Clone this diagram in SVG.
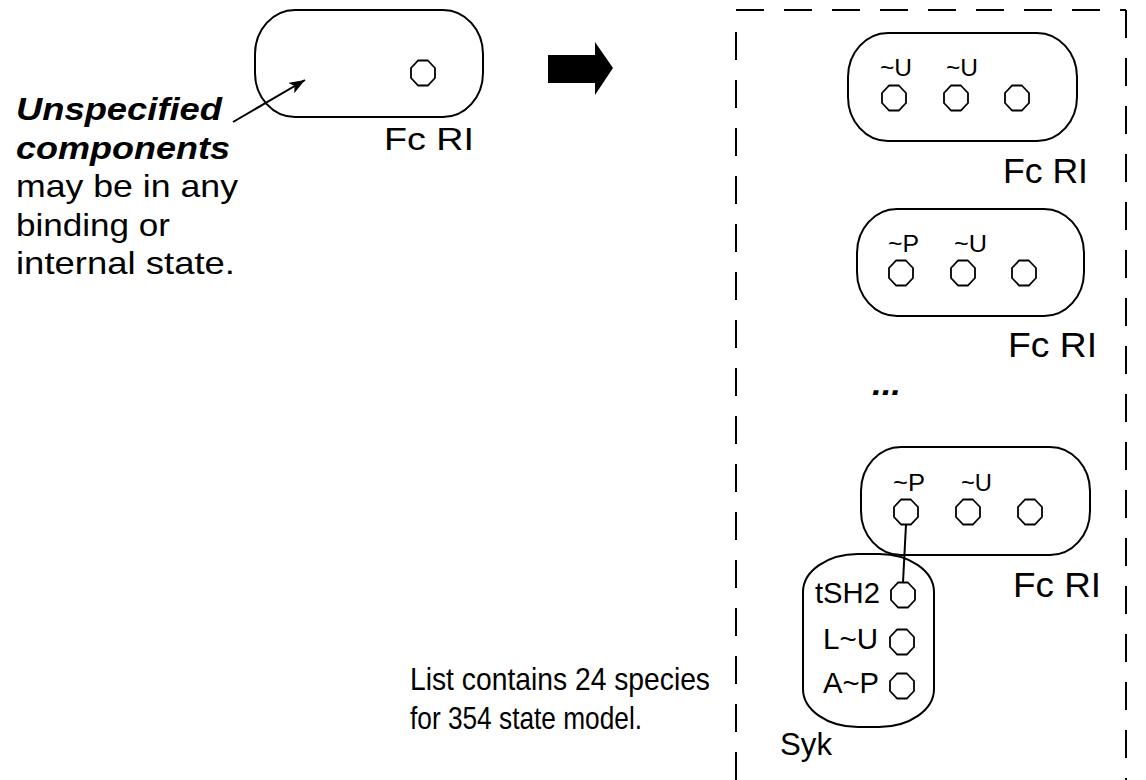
<svg xmlns="http://www.w3.org/2000/svg" width="1146" height="780" viewBox="0 0 1146 780">
<style>
.sh{fill:none;stroke:#000;stroke-width:2}
.oc{fill:#fff;stroke:#000;stroke-width:1.8}
.t{font-family:"Liberation Sans",Arial,sans-serif;fill:#000}
.dash{fill:none;stroke:#000;stroke-width:2;stroke-dasharray:28 20}
</style>
<defs>
<polygon id="oct" points="4.8,-12.5 12,-5 12,5 4.8,12.5 -4.8,12.5 -12,5 -12,-5 -4.8,-12.5"/>
<marker id="ah" viewBox="0 0 16 12" refX="16" refY="6" markerWidth="16" markerHeight="12" markerUnits="userSpaceOnUse" orient="auto">
<path d="M0,0 L16,6 L0,12 L4,6 Z" fill="#000"/>
</marker>
</defs>
<rect width="1146" height="780" fill="#fff"/>

<g id="frame">
<line class="dash" x1="736" y1="10" x2="1126" y2="10"/>
<line class="dash" x1="736" y1="32" x2="736" y2="790"/>
<line class="dash" x1="1126" y1="10" x2="1126" y2="790"/>
</g>

<g id="node-template">
<rect class="sh" x="255" y="10" width="228" height="107" rx="40" ry="44"/>
<use href="#oct" class="oc" x="423" y="73"/>
<text class="t" x="384" y="150" font-size="32" textLength="90" lengthAdjust="spacingAndGlyphs">Fc RI</text>
</g>

<g id="note">
<text class="t" x="16" y="120" font-size="32" font-weight="bold" font-style="italic" textLength="206" lengthAdjust="spacingAndGlyphs">Unspecified</text>
<text class="t" x="16" y="158.5" font-size="32" font-weight="bold" font-style="italic" textLength="214" lengthAdjust="spacingAndGlyphs">components</text>
<text class="t" x="16" y="197" font-size="32" textLength="222" lengthAdjust="spacingAndGlyphs">may be in any</text>
<text class="t" x="16" y="235.5" font-size="32" textLength="154" lengthAdjust="spacingAndGlyphs">binding or</text>
<text class="t" x="16" y="274" font-size="32" textLength="219" lengthAdjust="spacingAndGlyphs">internal state.</text>
</g>

<g id="block-arrow">
<polygon points="548,55 595,55 595,42 613,68 595,95 595,83 548,83" fill="#000"/>
</g>

<g id="node-1">
<rect class="sh" x="848" y="33" width="229" height="108" rx="40" ry="44"/>
<text class="t" x="880" y="76" font-size="24" textLength="32" lengthAdjust="spacingAndGlyphs">~U</text>
<text class="t" x="946" y="76" font-size="24" textLength="32" lengthAdjust="spacingAndGlyphs">~U</text>
<use href="#oct" class="oc" x="894" y="98"/>
<use href="#oct" class="oc" x="956" y="98"/>
<use href="#oct" class="oc" x="1017" y="98"/>
<text class="t" x="1003" y="183" font-size="35" textLength="85" lengthAdjust="spacingAndGlyphs">Fc RI</text>
</g>

<g id="node-2">
<rect class="sh" x="857" y="209" width="227" height="107" rx="40" ry="44"/>
<text class="t" x="888" y="252" font-size="24" textLength="31" lengthAdjust="spacingAndGlyphs">~P</text>
<text class="t" x="954" y="252" font-size="24" textLength="33" lengthAdjust="spacingAndGlyphs">~U</text>
<use href="#oct" class="oc" x="901" y="273"/>
<use href="#oct" class="oc" x="963" y="273"/>
<use href="#oct" class="oc" x="1024" y="273"/>
<text class="t" x="1008" y="357" font-size="35" textLength="89" lengthAdjust="spacingAndGlyphs">Fc RI</text>
</g>

<g id="ellipsis">
<text class="t" x="872" y="395" font-size="32" font-weight="bold" font-style="italic" textLength="29" lengthAdjust="spacingAndGlyphs">...</text>
</g>

<g id="node-3">
<rect class="sh" x="861" y="447" width="229" height="108" rx="40" ry="44"/>
<text class="t" x="893" y="491" font-size="24" textLength="32" lengthAdjust="spacingAndGlyphs">~P</text>
<text class="t" x="961" y="491" font-size="24" textLength="31" lengthAdjust="spacingAndGlyphs">~U</text>
<use href="#oct" class="oc" x="906" y="512"/>
<use href="#oct" class="oc" x="968" y="512"/>
<use href="#oct" class="oc" x="1030" y="512"/>
<text class="t" x="1013" y="597" font-size="35" textLength="88" lengthAdjust="spacingAndGlyphs">Fc RI</text>
</g>

<g id="node-syk">
<rect class="sh" x="803" y="554" width="131" height="173" rx="55" ry="38"/>
<use href="#oct" class="oc" x="903" y="595"/>
<use href="#oct" class="oc" x="902" y="642"/>
<use href="#oct" class="oc" x="902" y="686"/>
<text class="t" x="815" y="603" font-size="29" textLength="65" lengthAdjust="spacingAndGlyphs">tSH2</text>
<text class="t" x="823" y="649" font-size="29" textLength="55" lengthAdjust="spacingAndGlyphs">L~U</text>
<text class="t" x="823" y="693" font-size="29" textLength="56" lengthAdjust="spacingAndGlyphs">A~P</text>
<text class="t" x="780" y="755" font-size="31" textLength="52" lengthAdjust="spacingAndGlyphs">Syk</text>
</g>

<g id="list-note">
<text class="t" x="410" y="690" font-size="32" textLength="300" lengthAdjust="spacingAndGlyphs">List contains 24 species</text>
<text class="t" x="410" y="729" font-size="32" textLength="232" lengthAdjust="spacingAndGlyphs">for 354 state model.</text>
</g>

<g id="connectors">
<line x1="233" y1="122" x2="305" y2="80" stroke="#000" stroke-width="2" marker-end="url(#ah)"/>
<line x1="906" y1="524.5" x2="903" y2="582.5" stroke="#000" stroke-width="2"/>
</g>
</svg>
